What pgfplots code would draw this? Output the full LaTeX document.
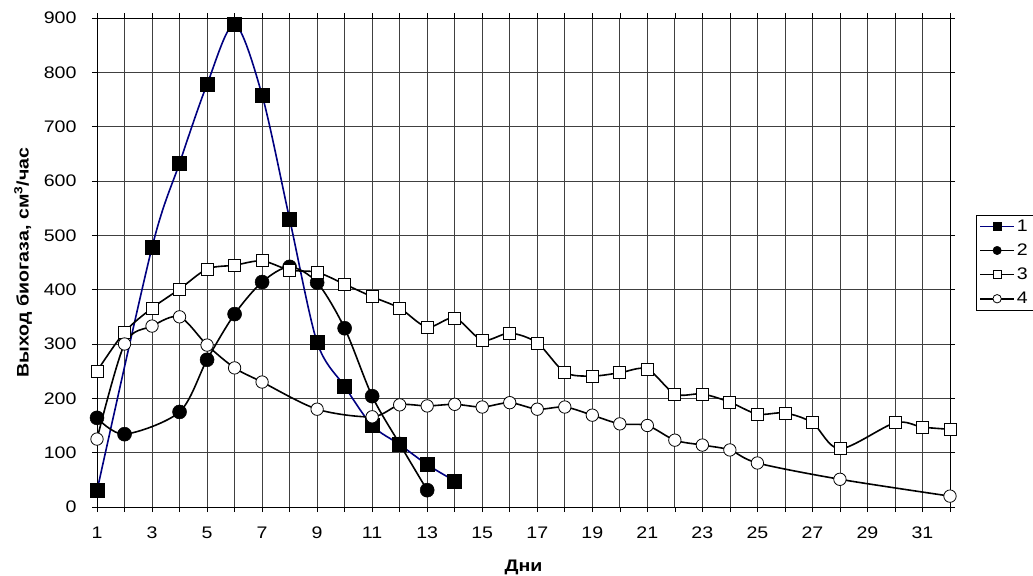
\documentclass[border=0pt]{standalone}
\usepackage{fontspec}
\setmainfont{Liberation Sans}[FakeStretch=1.17]
\usepackage{pgfplots}
\pgfplotsset{compat=1.18}
\definecolor{navy}{RGB}{0,0,128}
\begin{document}
\begin{tikzpicture}
\useasboundingbox (-97bp,-69bp) rectangle (936bp,507bp);
\begin{axis}[
  scale only axis,
  width=853bp, height=489bp,
  xmin=1, xmax=32, ymin=0, ymax=900,
  xtick={1,...,32},
  xticklabels={1,,3,,5,,7,,9,,11,,13,,15,,17,,19,,21,,23,,25,,27,,29,,31,},
  ytick={0,100,...,900},
  tick align=outside,
  major tick length=5bp,
  tick style={black, line width=0.6bp},
  grid=major,
  grid style={black!75, line width=0.7bp},
  axis line style={black, line width=0.8bp},
  /pgf/number format/assume math mode=true,
  ticklabel style={font=\fontsize{16.8}{19}\selectfont},
  xticklabel style={yshift=-11bp},
  yticklabel style={xshift=-12bp},
  xlabel={\textbf{Дни}},
  ylabel={\textbf{Выход биогаза, см\textsuperscript{3}/час}},
  label style={font=\fontsize{16.8}{19}\selectfont},
  xlabel style={yshift=-15bp},
  ylabel style={yshift=5bp},
  legend style={at={(rel axis cs:1.0305,0.598)}, anchor=north west,
    draw=black, line width=0.6bp, fill=white,
    font=\fontsize{16.8}{19}\selectfont,
    row sep=7bp, inner sep=3bp,
    nodes={inner sep=2bp}},
  legend cell align=left,
  legend image code/.code={\draw[#1, mark=none] (0bp,0bp) -- (34bp,0bp);
     \draw[#1, mark size=4.2bp] plot coordinates {(17bp,0bp)};},
  every axis plot/.append style={smooth, line width=1.6bp},
]
\addplot[navy, mark=square*, mark size=7bp, mark options={black, fill=black, line width=0.5bp}] coordinates {
(1,30) (3,478) (4,633) (5,778) (6,888) (7,758) (8,530) (9,303) (10,222) (11,150) (12,115) (13,78) (14,48)};
\addlegendentry{1\hspace*{10bp}}
\addplot[black, mark=*, mark size=7bp, mark options={fill=black, line width=0.5bp}] coordinates {
(1,164) (2,134) (4,175) (5,271) (6,355) (7,414) (8,442) (9,413) (10,329) (11,204) (12,116) (13,31)};
\addlegendentry{2}
\addplot[black, mark=square*, mark size=6bp, mark options={fill=white, line width=0.8bp}] coordinates {
(1,250) (2,322) (3,366) (4,401) (5,438) (6,445) (7,453) (8,436) (9,432) (10,410) (11,387) (12,366) (13,331) (14,348)
(15,307) (16,320) (17,302) (18,248) (19,241) (20,247) (21,254) (22,208) (23,208) (24,193) (25,171) (26,173) (27,155) (28,107)
(30,155) (31,147) (32,143)};
\addlegendentry{3}
\addplot[black, mark=*, mark size=6.2bp, mark options={fill=white, line width=0.8bp}] coordinates {
(1,125) (2,300) (3,333) (4,350) (5,298) (6,256) (7,230) (9,180) (11,166) (12,188) (13,186) (14,189)
(15,184) (16,192) (17,180) (18,184) (19,169) (20,153) (21,150) (22,123) (23,114) (24,105) (25,81) (28,51) (32,20)};
\addlegendentry{4}
\end{axis}
\end{tikzpicture}
\end{document}
